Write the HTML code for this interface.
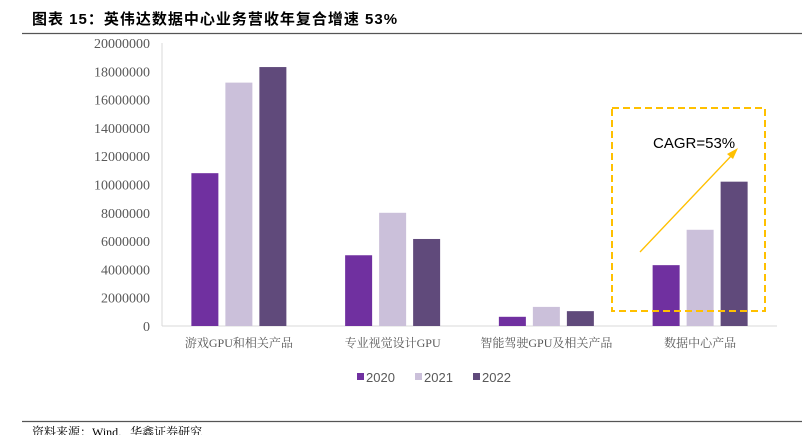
<!DOCTYPE html>
<html><head><meta charset="utf-8"><style>
body{margin:0;background:#fff;width:802px;height:435px;overflow:hidden;font-family:"Liberation Sans","Noto Sans CJK SC",sans-serif}
</style></head><body>
<svg width="802" height="435">
<text x="32" y="24" font-size="15" font-weight="bold" letter-spacing="1" fill="#000" font-family="Liberation Sans,Noto Sans CJK SC,sans-serif">图表 15：英伟达数据中心业务营收年复合增速 53%</text>
<line x1="22" y1="33.5" x2="802" y2="33.5" stroke="#555" stroke-width="1.2"/>
<g id="yaxis"></g>
<g id="bars"></g>
<g id="xlabels"></g>
<rect x="612" y="108" width="153" height="203" fill="none" stroke="#FFC000" stroke-width="2" stroke-dasharray="7,4"/>
<line x1="640" y1="252" x2="733" y2="154" stroke="#FFC000" stroke-width="1.3"/>
<polygon points="738,148 727,154 733,159" fill="#FFC000"/>
<text x="653" y="148" font-size="15" fill="#000">CAGR=53%</text>
<g id="legend"></g>
<line x1="22" y1="421.5" x2="802" y2="421.5" stroke="#555" stroke-width="1.2"/>
<text x="32" y="436" font-size="12" fill="#000" font-family="Liberation Serif,Noto Serif CJK SC,serif">资料来源：Wind，华鑫证券研究</text>
</svg>
<script>
const categories=["游戏GPU和相关产品","专业视觉设计GPU","智能驾驶GPU及相关产品","数据中心产品"];
const years=["2020","2021","2022"];
const s2020=[10800000,5000000,650000,4300000];
const s2021=[17200000,8000000,1350000,6800000];
const s2022=[18300000,6150000,1050000,10200000];
const yTicks=[0,2000000,4000000,6000000,8000000,10000000,12000000,14000000,16000000,18000000,20000000];
const colors=["#7030A0","#CBC0DA","#604A7B"];
const series=[s2020,s2021,s2022];
const NS="http://www.w3.org/2000/svg";
const y0=326,y1=43,vmax=20000000,xL=162,xR=777;
const Y=v=>y0-(v/vmax)*(y0-y1);
const gw=(xR-xL)/categories.length;
const X=i=>xL+gw*(i+0.5);
function mk(t,a,p){const e=document.createElementNS(NS,t);for(const k in a)e.setAttribute(k,a[k]);p.appendChild(e);return e;}
const ya=document.getElementById('yaxis');
yTicks.forEach(v=>{const t=mk('text',{x:150,y:Y(v)+5,'text-anchor':'end','font-size':14,fill:'#595959','font-family':'Liberation Serif,serif'},ya);t.textContent=v;

});
const vl=mk('line',{x1:xL,y1:y1,x2:xL,y2:y0,stroke:'#D9D9D9'},ya);


const hl=mk('line',{x1:xL,y1:y0,x2:xR,y2:y0,stroke:'#D9D9D9'},ya);


const bg=document.getElementById('bars');const bw=27,step=34;
categories.forEach((c,i)=>{series.forEach((s,j)=>{const x=X(i)+(j-1)*step-bw/2;
const r=mk('rect',{x:x,y:Y(s[i]),width:bw,height:y0-Y(s[i]),fill:colors[j]},bg);

});
const t=mk('text',{x:X(i),y:347,'text-anchor':'middle','font-size':12,fill:'#595959','font-family':'Liberation Serif,Noto Serif CJK SC,serif'},document.getElementById('xlabels'));t.textContent=c;

});
const lg=document.getElementById('legend');
years.forEach((yr,j)=>{const x=357+j*58;
const r=mk('rect',{x:x,y:373,width:7,height:7,fill:colors[j]},lg);


const t=mk('text',{x:x+9,y:382,'font-size':13,fill:'#595959'},lg);t.textContent=yr;

});
</script>
</body></html>
